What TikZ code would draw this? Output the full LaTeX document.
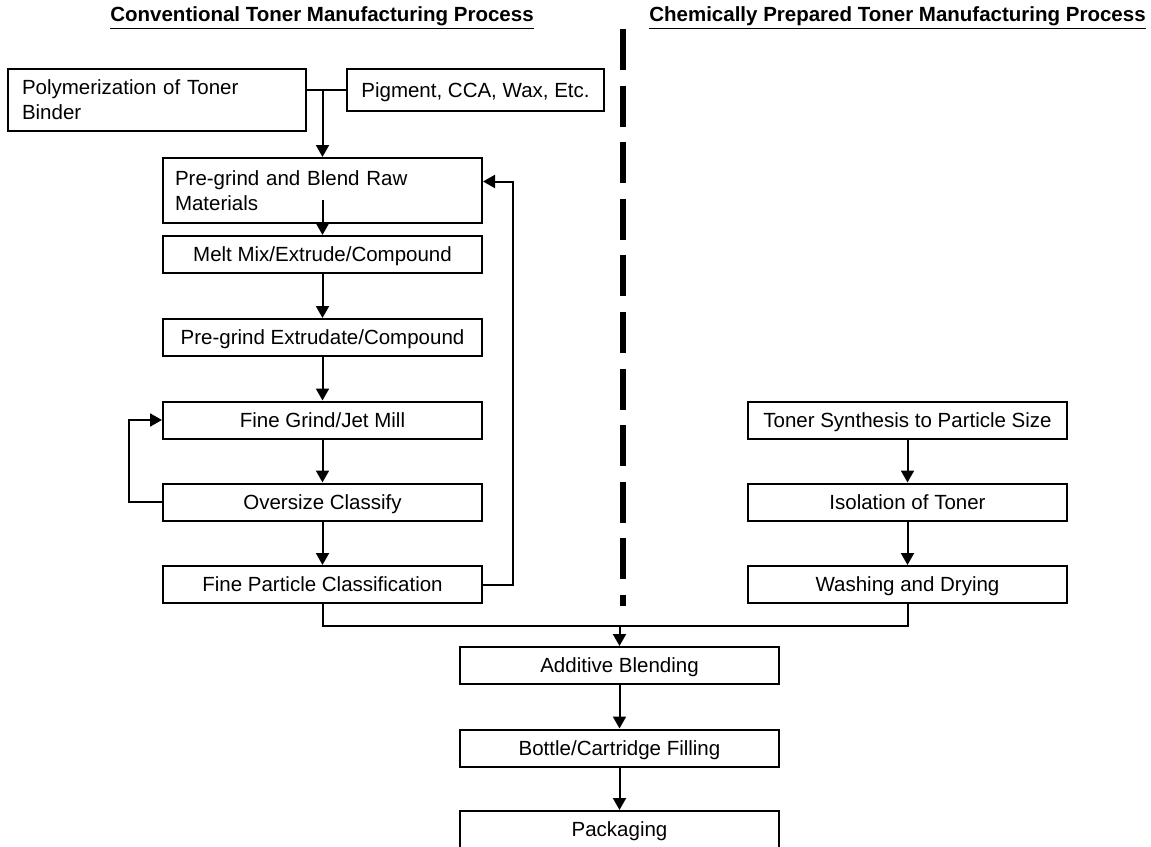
\documentclass[tikz,border=0pt]{standalone}
\usepackage{fontspec}
\setmainfont{Liberation Sans}
\usetikzlibrary{arrows.meta}
\tikzset{
  box/.style={draw, line width=1pt, minimum width=159.5pt, minimum height=18.5pt, inner sep=0pt, font=\fontsize{10.25}{12.5}\selectfont},
  stage/.style={box, text height=7.3pt, text depth=0pt},
  flow/.style={line width=1pt, -{Triangle[length=6pt,width=6.5pt]}},
  link/.style={line width=1pt},
  heading/.style={font=\fontsize{10.25}{12}\selectfont\bfseries},
}
\begin{document}
\begin{tikzpicture}[x=0.5pt, y=-0.5pt]
\useasboundingbox (0,0) rectangle (1151,846);
% headings and divider
\node[heading] (hconv) at (322,18) {\underline{Conventional Toner Manufacturing Process}};
\node[heading] (hchem) at (897.5,18) {\underline{Chemically Prepared Toner Manufacturing Process}};
\draw[line width=3pt, dash pattern=on 20.5pt off 7.8pt] (623,29) -- (623,606);
% conventional process
\node[box, minimum width=149pt, minimum height=31pt, text width=135pt, align=left] (poly) at (157,100) {Polymerization of Toner\\Binder};
\node[stage, minimum width=128.5pt, minimum height=21pt] (pigment) at (475.5,90) {Pigment, CCA, Wax, Etc.};
\node[box, minimum height=32.5pt, text width=147.5pt, align=left] (blend) at (322.5,190.5) {Pre-grind and Blend Raw\\Materials};
\node[stage] (melt) at (322.5,254.5) {Melt Mix/Extrude/Compound};
\node[stage] (extgrind) at (322.5,337.5) {Pre-grind Extrudate/Compound};
\node[stage] (jetmill) at (322.5,420) {Fine Grind/Jet Mill};
\node[stage] (oversize) at (322.5,502) {Oversize Classify};
\node[stage] (fineclass) at (322.5,584.5) {Fine Particle Classification};
% chemical process
\node[stage] (synth) at (907.5,420) {Toner Synthesis to Particle Size};
\node[stage] (isolate) at (907.5,502) {Isolation of Toner};
\node[stage] (washdry) at (907.5,584.5) {Washing and Drying};
% common steps
\node[stage] (additive) at (619.5,665.5) {Additive Blending};
\node[stage] (filling) at (619.5,748) {Bottle/Cartridge Filling};
\node[stage] (packaging) at (619.5,829.5) {Packaging};
% connectors
\draw[link] (poly.east |- pigment.west) -- (pigment.west);
\draw[flow] (blend.north |- pigment.west) -- (blend.north);
\draw[flow] ([yshift=-4.75pt]blend.center) -- (melt.north);
\draw[flow] (melt) -- (extgrind);
\draw[flow] (extgrind) -- (jetmill);
\draw[flow] (jetmill) -- (oversize);
\draw[flow] (oversize) -- (fineclass);
\draw[flow] (oversize.west) -- ++(-33,0) |- (jetmill.west);
\draw[flow] (fineclass.east) -- ++(30,0) |- ([yshift=4.5pt]blend.east);
\draw[flow] (synth) -- (isolate);
\draw[flow] (isolate) -- (washdry);
\draw[link] (fineclass.south) -- ++(0,22) coordinate (merge) -| (washdry.south);
\draw[flow] (merge -| additive.north) -- (additive.north);
\draw[flow] (additive) -- (filling);
\draw[flow] (filling) -- (packaging);
\end{tikzpicture}
\end{document}
